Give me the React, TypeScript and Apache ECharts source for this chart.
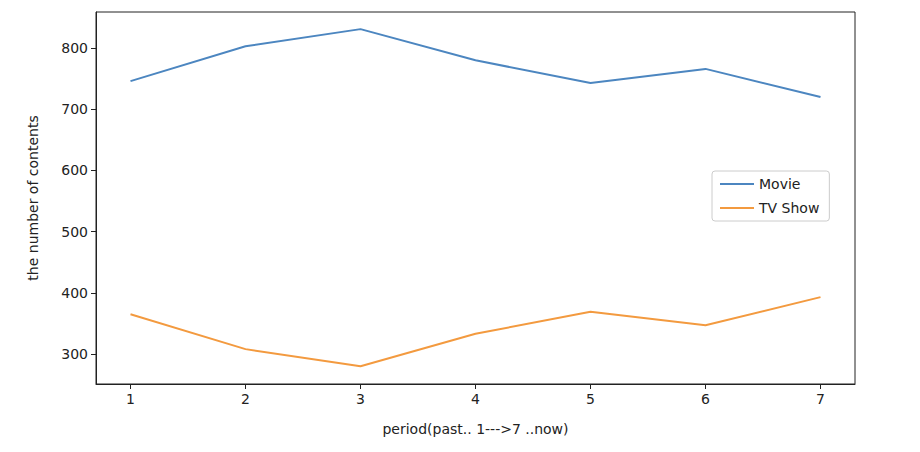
import React, { useEffect, useRef } from "react";
import * as echarts from "echarts";

const periods = [1, 2, 3, 4, 5, 6, 7];
const movie = [746, 803, 831, 780, 743, 766, 720];
const tvShow = [365, 308, 280, 333, 369, 347, 393];
const yTicks = [300, 400, 500, 600, 700, 800];

export default function App() {
  const ref = useRef<HTMLDivElement>(null);
  useEffect(() => {
    const chart = echarts.init(ref.current!, null, { renderer: "svg" });
    const font = "DejaVu Sans";
    chart.setOption({
      animation: false,
      textStyle: { fontFamily: font },
      grid: { left: 96, top: 12, width: 759, height: 372 },
      legend: {
        orient: "vertical",
        left: 712,
        top: 171,
        itemWidth: 34,
        itemHeight: 2,
        itemGap: 10,
        padding: [6, 10, 6, 8],
        borderColor: "#cccccc",
        borderWidth: 1,
        borderRadius: 3,
        textStyle: { fontFamily: font, fontSize: 14, color: "#222" },
        data: [
          { name: "Movie", icon: "rect" },
          { name: "TV Show", icon: "rect" },
        ],
      },
      xAxis: {
        type: "value",
        min: 0.7,
        max: 7.3,
        name: "period(past.. 1--->7 ..now)",
        nameLocation: "middle",
        nameGap: 38,
        nameTextStyle: { fontFamily: font, fontSize: 14, color: "#222" },
        axisLine: { onZero: false, lineStyle: { color: "#222" } },
        axisTick: { show: true, customValues: periods, length: 5, lineStyle: { color: "#222" } },
        axisLabel: { customValues: periods, fontFamily: font, fontSize: 14, color: "#222" },
        splitLine: { show: false },
      },
      yAxis: {
        type: "value",
        min: 251,
        max: 859,
        name: "the number of contents",
        nameLocation: "middle",
        nameGap: 56,
        nameTextStyle: { fontFamily: font, fontSize: 14, color: "#222" },
        axisLine: { show: true, lineStyle: { color: "#222" } },
        axisTick: { show: true, customValues: yTicks, length: 5, lineStyle: { color: "#222" } },
        axisLabel: { customValues: yTicks, fontFamily: font, fontSize: 14, color: "#222" },
        splitLine: { show: false },
      },
      graphic: [
        {
          type: "rect",
          shape: { x: 96, y: 12, width: 759, height: 372 },
          style: { fill: "none", stroke: "#222", lineWidth: 1 },
          silent: true,
        },
      ],
      series: [
        {
          name: "Movie",
          type: "line",
          data: periods.map((p, i) => [p, movie[i]]),
          showSymbol: false,
          color: "#4c86c0",
          lineStyle: { width: 2 },
        },
        {
          name: "TV Show",
          type: "line",
          data: periods.map((p, i) => [p, tvShow[i]]),
          showSymbol: false,
          color: "#f39a3f",
          lineStyle: { width: 2 },
        },
      ],
    });
    return () => chart.dispose();
  }, []);
  return (
    <div
      ref={ref}
      style={{ position: "fixed", left: 0, top: 0, width: 920, height: 452, background: "#fff" }}
    />
  );
}
